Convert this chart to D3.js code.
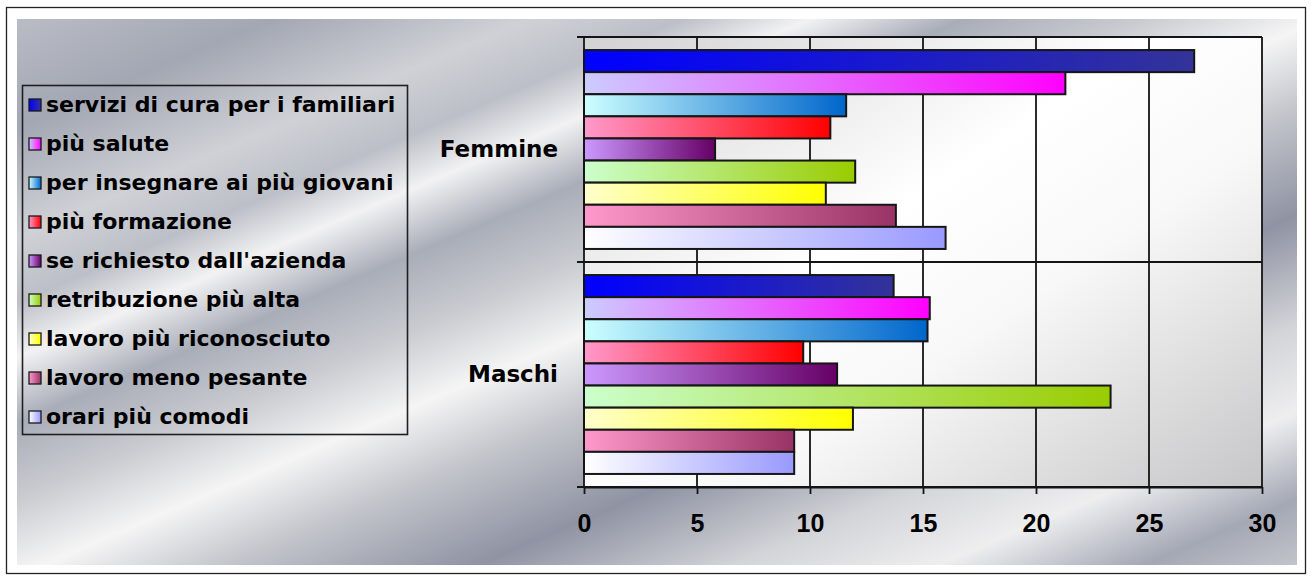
<!DOCTYPE html>
<html>
<head>
<meta charset="utf-8">
<script src="https://cdn.jsdelivr.net/npm/d3@7"></script>
<style>
  html, body { margin: 0; padding: 0; background: #ffffff; }
  svg { display: block; }
</style>
</head>
<body>
<svg id="chart" width="1312" height="580"></svg>
<script>
// ---- data ----
const categories = ["Femmine", "Maschi"];
const seriesNames = [
  "servizi di cura per i familiari",
  "più salute",
  "per insegnare ai più giovani",
  "più formazione",
  "se richiesto dall'azienda",
  "retribuzione più alta",
  "lavoro più riconosciuto",
  "lavoro meno pesante",
  "orari più comodi"
];
const femmineValues = [27.0, 21.3, 11.6, 10.9, 5.8, 12.0, 10.7, 13.8, 16.0];
const maschiValues  = [13.7, 15.3, 15.2, 9.7, 11.2, 23.3, 11.9, 9.3, 9.3];
const xTickValues = [0, 5, 10, 15, 20, 25, 30];

// two-colour horizontal fills for each series (light at left, strong at right)
const seriesLight = ["#0000ff", "#ccccff", "#ccffff", "#ff99cc", "#cc99ff", "#ccffcc", "#ffffcc", "#ff99cc", "#ffffff"];
const seriesDark  = ["#333399", "#ff00ff", "#0066cc", "#ff0000", "#660066", "#99cc00", "#ffff00", "#993366", "#9999ff"];

const valuesByCategory = { "Femmine": femmineValues, "Maschi": maschiValues };

// ---- layout ----
const plot = { left: 584, right: 1262, top: 37, bottom: 487 };

const svg = d3.select("#chart");
const defs = svg.append("defs");

// brushed-metal background
const metal = defs.append("linearGradient")
  .attr("id", "metal").attr("x1", 0).attr("y1", 0).attr("x2", 1).attr("y2", 1);
[
  [0.00, "#b9bcc5"], [0.10, "#a3a7b3"], [0.20, "#cfd1d6"], [0.26, "#bcbfc7"],
  [0.31, "#f2f2f3"], [0.37, "#a9adb8"], [0.44, "#c9cbd0"], [0.51, "#f5f5f5"],
  [0.58, "#c4c6cc"], [0.68, "#8f93a3"], [0.78, "#d3d4d8"], [0.86, "#eeeeef"],
  [0.94, "#a4a8b5"], [1.00, "#c2c4ca"]
].forEach(([o, c]) => metal.append("stop").attr("offset", o).attr("stop-color", c));

// plot area wash
const wash = defs.append("linearGradient")
  .attr("id", "wash").attr("x1", 0).attr("y1", 0).attr("x2", 1).attr("y2", 1);
[[0, "#d2d2d4"], [0.42, "#ffffff"], [0.62, "#f8f8f8"], [1, "#c6c6c8"]]
  .forEach(([o, c]) => wash.append("stop").attr("offset", o).attr("stop-color", c));

// per-series bar fills
seriesNames.forEach((name, i) => {
  const g = defs.append("linearGradient")
    .attr("id", "fill" + i).attr("x1", 0).attr("y1", 0).attr("x2", 1).attr("y2", 0);
  g.append("stop").attr("offset", 0).attr("stop-color", seriesLight[i]);
  g.append("stop").attr("offset", 1).attr("stop-color", seriesDark[i]);
});

// outer frame and chart background
svg.append("rect").attr("x", 6.5).attr("y", 7.5).attr("width", 1299).attr("height", 566)
  .attr("fill", "#ffffff").attr("stroke", "#222").attr("stroke-width", 1.3);
svg.append("rect").attr("x", 17).attr("y", 19).attr("width", 1280).attr("height", 546)
  .attr("fill", "url(#metal)");

// ---- scales ----
const x = d3.scaleLinear().domain([0, 30]).range([plot.left, plot.right]);
const yCat = d3.scaleBand().domain(categories).range([plot.top, plot.bottom]).paddingInner(0).paddingOuter(0);
const ySer = d3.scaleBand().domain(seriesNames).range([0, yCat.bandwidth()]).paddingInner(0).paddingOuter(0.59);

const lineColor = "#141414";

// plot area
svg.append("rect")
  .attr("x", plot.left).attr("y", plot.top)
  .attr("width", plot.right - plot.left).attr("height", plot.bottom - plot.top)
  .attr("fill", "url(#wash)");

// vertical gridlines
svg.append("g").selectAll("line").data(xTickValues.filter(d => d > 0)).join("line")
  .attr("x1", d => x(d)).attr("x2", d => x(d))
  .attr("y1", plot.top).attr("y2", plot.bottom)
  .attr("stroke", lineColor).attr("stroke-width", 1.8);

// horizontal category boundaries (with ticks crossing the value axis)
const bounds = [plot.top].concat(categories.map(c => yCat(c) + yCat.bandwidth()));
svg.append("g").selectAll("line").data(bounds).join("line")
  .attr("x1", plot.left - 7).attr("x2", plot.right)
  .attr("y1", d => d).attr("y2", d => d)
  .attr("stroke", lineColor).attr("stroke-width", 1.8);

// bars
const barData = [];
categories.forEach(cat => {
  valuesByCategory[cat].forEach((v, i) => barData.push({ cat, name: seriesNames[i], i, v }));
});
svg.append("g").selectAll("rect").data(barData).join("rect")
  .attr("x", x(0))
  .attr("y", d => yCat(d.cat) + ySer(d.name))
  .attr("width", d => x(d.v) - x(0))
  .attr("height", ySer.bandwidth())
  .attr("fill", d => "url(#fill" + d.i + ")")
  .attr("stroke", "#161616").attr("stroke-width", 2);

// value axis
const xAxis = svg.append("g")
  .attr("transform", `translate(0,${plot.bottom})`)
  .call(d3.axisBottom(x).tickValues(xTickValues).tickSizeInner(7).tickSizeOuter(0).tickPadding(20));
xAxis.select(".domain").attr("stroke", lineColor).attr("stroke-width", 1.8);
xAxis.selectAll(".tick line").attr("stroke", lineColor).attr("stroke-width", 1.8);
xAxis.selectAll(".tick text")
  .attr("fill", "#000").style("font-family", "'Liberation Sans', Arial, sans-serif")
  .style("font-weight", "bold").style("font-size", "25px");

// category axis
const yAxis = svg.append("g")
  .attr("transform", `translate(${plot.left},0)`)
  .call(d3.axisLeft(yCat).tickSize(0).tickPadding(26));
yAxis.select(".domain").remove();
yAxis.selectAll(".tick text")
  .attr("fill", "#000").style("font-family", "'DejaVu Sans', Verdana, sans-serif")
  .style("font-weight", "bold").style("font-size", "23px");
svg.append("line")
  .attr("x1", plot.left).attr("x2", plot.left).attr("y1", plot.top - 1).attr("y2", plot.bottom + 1)
  .attr("stroke", lineColor).attr("stroke-width", 1.8);

// legend
const legend = svg.append("g");
legend.append("rect")
  .attr("x", 22.5).attr("y", 85.5).attr("width", 385).attr("height", 349)
  .attr("fill", "none").attr("stroke", "#202020").attr("stroke-width", 1.6);
const item = legend.selectAll("g.item").data(seriesNames).join("g")
  .attr("class", "item")
  .attr("transform", (d, i) => `translate(29,${105 + i * 39})`);
item.append("rect")
  .attr("x", 0).attr("y", -6).attr("width", 12).attr("height", 12)
  .attr("fill", (d, i) => "url(#fill" + i + ")")
  .attr("stroke", "#1a1a1a").attr("stroke-width", 1.3);
item.append("text")
  .attr("x", 17).attr("y", 6.5)
  .attr("fill", "#000")
  .style("font-family", "'DejaVu Sans', Verdana, sans-serif")
  .style("font-weight", "bold").style("font-size", "22px")
  .text(d => d);
</script>
</body>
</html>
